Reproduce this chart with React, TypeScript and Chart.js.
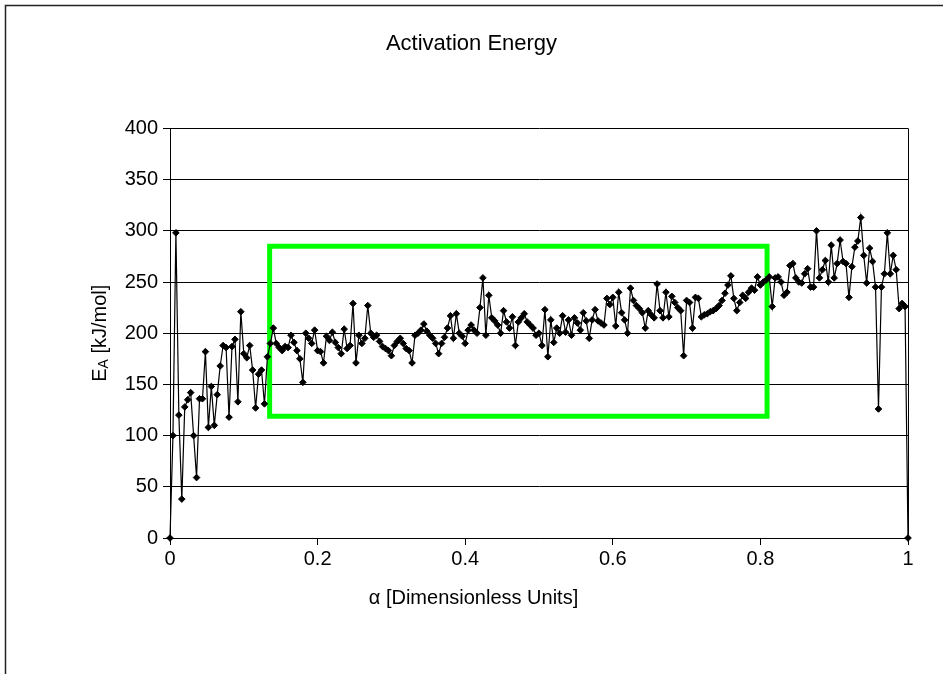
import React, { useEffect, useRef } from "react";
import { Chart, registerables } from "chart.js";

Chart.register(...registerables);

const chartTitle = "Activation Energy";
const xAxisTitle = "α [Dimensionless Units]";
const yTitleMain = "E";
const yTitleSub = "A";
const yTitleRest = " [kJ/mol]";

const xTickValues = [0, 0.2, 0.4, 0.6, 0.8, 1];
const yTickValues = [0, 50, 100, 150, 200, 250, 300, 350, 400];

const alphas = [
  0, 0.004, 0.008, 0.012, 0.016, 0.02, 0.024, 0.028, 0.032, 0.036,
  0.04, 0.044, 0.048, 0.052, 0.056, 0.06, 0.064, 0.068, 0.072, 0.076,
  0.08, 0.084, 0.088, 0.092, 0.096, 0.1, 0.104, 0.108, 0.112, 0.116,
  0.12, 0.124, 0.128, 0.132, 0.136, 0.14, 0.144, 0.148, 0.152, 0.156,
  0.16, 0.164, 0.168, 0.172, 0.176, 0.18, 0.184, 0.188, 0.192, 0.196,
  0.2, 0.204, 0.208, 0.212, 0.216, 0.22, 0.224, 0.228, 0.232, 0.236,
  0.24, 0.244, 0.248, 0.252, 0.256, 0.26, 0.264, 0.268, 0.272, 0.276,
  0.28, 0.284, 0.288, 0.292, 0.296, 0.3, 0.304, 0.308, 0.312, 0.316,
  0.32, 0.324, 0.328, 0.332, 0.336, 0.34, 0.344, 0.348, 0.352, 0.356,
  0.36, 0.364, 0.368, 0.372, 0.376, 0.38, 0.384, 0.388, 0.392, 0.396,
  0.4, 0.404, 0.408, 0.412, 0.416, 0.42, 0.424, 0.428, 0.432, 0.436,
  0.44, 0.444, 0.448, 0.452, 0.456, 0.46, 0.464, 0.468, 0.472, 0.476,
  0.48, 0.484, 0.488, 0.492, 0.496, 0.5, 0.504, 0.508, 0.512, 0.516,
  0.52, 0.524, 0.528, 0.532, 0.536, 0.54, 0.544, 0.548, 0.552, 0.556,
  0.56, 0.564, 0.568, 0.572, 0.576, 0.58, 0.584, 0.588, 0.592, 0.596,
  0.6, 0.604, 0.608, 0.612, 0.616, 0.62, 0.624, 0.628, 0.632, 0.636,
  0.64, 0.644, 0.648, 0.652, 0.656, 0.66, 0.664, 0.668, 0.672, 0.676,
  0.68, 0.684, 0.688, 0.692, 0.696, 0.7, 0.704, 0.708, 0.712, 0.716,
  0.72, 0.724, 0.728, 0.732, 0.736, 0.74, 0.744, 0.748, 0.752, 0.756,
  0.76, 0.764, 0.768, 0.772, 0.776, 0.78, 0.784, 0.788, 0.792, 0.796,
  0.8, 0.804, 0.808, 0.812, 0.816, 0.82, 0.824, 0.828, 0.832, 0.836,
  0.84, 0.844, 0.848, 0.852, 0.856, 0.86, 0.864, 0.868, 0.872, 0.876,
  0.88, 0.884, 0.888, 0.892, 0.896, 0.9, 0.904, 0.908, 0.912, 0.916,
  0.92, 0.924, 0.928, 0.932, 0.936, 0.94, 0.944, 0.948, 0.952, 0.956,
  0.96, 0.964, 0.968, 0.972, 0.976, 0.98, 0.984, 0.988, 0.992, 0.996,
  1,
];

const energies = [
  0, 100, 298, 120, 38, 128, 135, 142, 100, 59,
  136, 136, 182, 108, 148, 110, 140, 168, 188, 186,
  118, 187, 194, 133, 221, 180, 176, 188, 164, 127,
  160, 164, 131, 177, 190, 205, 190, 186, 183, 187,
  186, 198, 191, 183, 175, 152, 200, 195, 190, 203,
  183, 182, 171, 197, 193, 201, 191, 186, 180, 204,
  185, 188, 229, 171, 198, 190, 195, 227, 200, 196,
  198, 192, 187, 185, 183, 178, 188, 192, 195, 190,
  185, 183, 171, 198, 200, 203, 209, 202, 198, 195,
  190, 180, 190, 196, 205, 217, 195, 219, 200, 197,
  190, 203, 208, 203, 200, 225, 254, 198, 237, 215,
  212, 208, 200, 222, 211, 205, 216, 188, 211, 215,
  219, 211, 208, 205, 198, 200, 188, 223, 177, 213,
  191, 205, 200, 217, 201, 213, 198, 215, 210, 203,
  220, 212, 195, 213, 223, 212, 210, 208, 234, 228,
  235, 207, 240, 220, 213, 200, 244, 232, 227, 224,
  220, 205, 222, 218, 215, 248, 222, 215, 240, 216,
  236, 230, 225, 222, 178, 232, 230, 205, 235, 234,
  216, 218, 219, 221, 222, 224, 227, 232, 239, 247,
  256, 234, 222, 230, 237, 234, 240, 244, 242, 255,
  247, 250, 252, 255, 226, 254, 255, 250, 237, 240,
  266, 268, 254, 250, 249, 258, 263, 245, 245, 300,
  254, 262, 271, 250, 286, 254, 268, 291, 270, 268,
  235, 265, 284, 290, 313, 276, 249, 283, 270, 245,
  126, 245, 258, 298, 258, 276, 262, 224, 229, 226,
  0,
];

// Highlight box corners (alpha, energy)
const boxAlphas = [0.135, 0.809, 0.809, 0.135, 0.135];
const boxEnergies = [119, 119, 285, 285, 119];

const FONT = "'Liberation Sans', Arial, sans-serif";

export default function App() {
  const ref = useRef<HTMLCanvasElement>(null);

  useEffect(() => {
    document.body.style.margin = "0";
    const canvas = ref.current;
    if (!canvas) return;

    const framePlugin = {
      id: "framePlugin",
      beforeDraw(chart: any) {
        const c = chart.ctx;
        c.save();
        c.fillStyle = "#ffffff";
        c.fillRect(0, 0, chart.width, chart.height);
        c.strokeStyle = "#222";
        c.lineWidth = 1.5;
        c.beginPath();
        c.moveTo(5.5, chart.height);
        c.lineTo(5.5, 5.5);
        c.lineTo(chart.width, 5.5);
        c.stroke();
        c.restore();
      },
      beforeDatasetsDraw(chart: any) {
        const { ctx: c, chartArea: a } = chart;
        c.save();
        c.strokeStyle = "#000";
        c.lineWidth = 1;
        c.beginPath();
        c.moveTo(Math.round(a.right) + 0.5, a.top);
        c.lineTo(Math.round(a.right) + 0.5, a.bottom);
        c.stroke();
        c.restore();
      },
      afterDraw(chart: any) {
        const { ctx: c, chartArea: a } = chart;
        // x-axis title, centred on the chart like the reference
        c.save();
        c.fillStyle = "#000";
        c.font = `20px ${FONT}`;
        c.textAlign = "center";
        c.textBaseline = "middle";
        c.fillText(xAxisTitle, chart.width / 2 + 2, a.bottom + 60);
        c.restore();

        // y-axis title with subscript
        c.save();
        const cy = (a.top + a.bottom) / 2;
        c.translate(100, cy);
        c.rotate(-Math.PI / 2);
        c.fillStyle = "#000";
        c.textBaseline = "middle";
        c.textAlign = "left";
        const big = `20px ${FONT}`;
        const small = `14px ${FONT}`;
        c.font = big;
        const w1 = c.measureText(yTitleMain).width;
        const w3 = c.measureText(yTitleRest).width;
        c.font = small;
        const w2 = c.measureText(yTitleSub).width;
        let x = -(w1 + w2 + w3) / 2;
        c.font = big;
        c.fillText(yTitleMain, x, 0);
        x += w1;
        c.font = small;
        c.fillText(yTitleSub, x, 4);
        x += w2;
        c.font = big;
        c.fillText(yTitleRest, x, 0);
        c.restore();
      },
    };

    const chart = new Chart(canvas, {
      type: "scatter",
      data: {
        datasets: [
          {
            data: alphas.map((a, i) => ({ x: a, y: energies[i] })),
            showLine: true,
            borderColor: "#000",
            borderWidth: 1.2,
            pointStyle: "rectRot",
            pointRadius: 3.3,
            pointBackgroundColor: "#000",
            pointBorderColor: "#000",
            pointBorderWidth: 1,
            tension: 0,
            clip: false,
          } as any,
          {
            data: boxAlphas.map((a, i) => ({ x: a, y: boxEnergies[i] })),
            showLine: true,
            borderColor: "#00ff00",
            borderWidth: 5,
            borderJoinStyle: "miter",
            borderCapStyle: "square",
            pointRadius: 0,
            fill: false,
            tension: 0,
          } as any,
        ],
      },
      options: {
        responsive: false,
        animation: false,
        devicePixelRatio: 1,
        layout: { padding: 0 },
        plugins: {
          legend: { display: false },
          tooltip: { enabled: false },
          title: {
            display: true,
            text: chartTitle,
            color: "#000",
            font: { family: FONT, size: 22, weight: "normal" },
            padding: { top: 31, bottom: 71 },
          },
        },
        scales: {
          x: {
            type: "linear",
            min: 0,
            max: 1,
            afterBuildTicks: (s: any) => {
              s.ticks = xTickValues.map((v) => ({ value: v }));
            },
            afterFit: (s: any) => {
              s.height = 136;
            },
            ticks: {
              color: "#000",
              font: { family: FONT, size: 20 },
              padding: 2,
              autoSkip: false,
              maxRotation: 0,
              callback: (v: any) => String(v),
            },
            grid: {
              drawOnChartArea: false,
              drawTicks: true,
              tickLength: 7,
              color: "#000",
            },
            border: { display: true, color: "#000", width: 1 },
          },
          y: {
            type: "linear",
            min: 0,
            max: 400,
            afterBuildTicks: (s: any) => {
              s.ticks = yTickValues.map((v) => ({ value: v }));
            },
            afterFit: (s: any) => {
              s.width = 170;
            },
            ticks: {
              color: "#000",
              font: { family: FONT, size: 20 },
              padding: 5,
              autoSkip: false,
              callback: (v: any) => String(v),
            },
            grid: {
              color: "#000",
              tickLength: 7,
              lineWidth: 1,
            },
            border: { display: true, color: "#000", width: 1 },
          },
          yRightSpace: {
            type: "linear",
            position: "right",
            display: true,
            min: 0,
            max: 400,
            afterFit: (s: any) => {
              s.width = 35;
            },
            ticks: { display: false },
            grid: { display: false, drawTicks: false },
            border: { display: false },
          },
        },
      } as any,
      plugins: [framePlugin],
    });

    return () => chart.destroy();
  }, []);

  return (
    <div style={{ width: 943, height: 674 }}>
      <canvas ref={ref} width={943} height={674} style={{ display: "block" }} />
    </div>
  );
}
